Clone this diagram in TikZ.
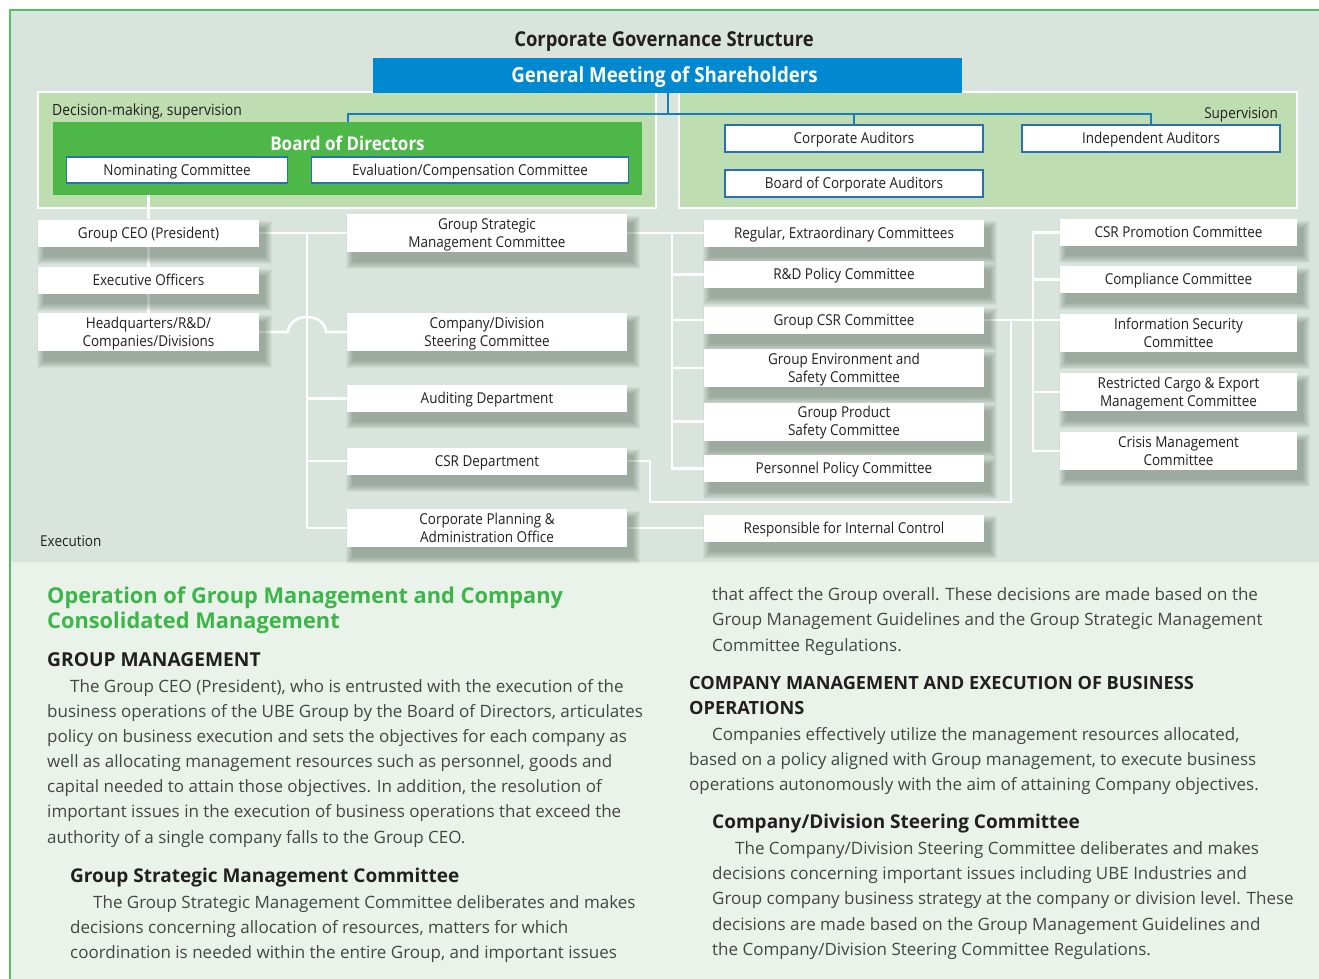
\documentclass[tikz,border=0pt]{standalone}
\usepackage{fontspec}
\setmainfont{Open Sans}
\newfontfamily\cnd[FakeStretch=0.9]{Open Sans}
\newfontfamily\txt{Open Sans}

\definecolor{topbg}{HTML}{D9E4DC}
\definecolor{lowbg}{HTML}{EAF3E9}
\definecolor{areafill}{HTML}{BEDDB0}
\definecolor{boardgreen}{HTML}{4DB848}
\definecolor{gmsblue}{HTML}{0089D0}
\definecolor{linkblue}{HTML}{1C7CC0}
\definecolor{edgeblue}{HTML}{2A6FB2}
\definecolor{ink}{HTML}{231F20}
\definecolor{bodyink}{HTML}{454545}
\definecolor{headgreen}{HTML}{3DB54A}
\definecolor{framegreen}{HTML}{55BE5F}
\definecolor{shadowc}{HTML}{2F4536}

\pgfdeclarelayer{backdrop}
\pgfdeclarelayer{links}
\pgfdeclarelayer{shade}
\pgfsetlayers{backdrop,links,shade,main}

% struts fixing the vertical placement of box labels
\newcommand{\st}{\rule[-4pt]{0pt}{18pt}}
\newcommand{\bst}{\rule[-5pt]{0pt}{25pt}}

\tikzset{
  lbl/.style={font=\cnd\fontsize{15}{18}\selectfont, text=ink, align=center},
  exbox/.style={lbl, fill=white, inner sep=0pt},
  inbox/.style={lbl, fill=white, draw=edgeblue, line width=1.1pt, inner sep=0pt},
  area/.style={fill=areafill, draw=white, line width=2pt, inner sep=0pt},
  wline/.style={draw=white, line width=2.6pt},
  bline/.style={draw=linkblue, line width=2pt},
  lw/.style={minimum width=221pt},
  mw/.style={minimum width=280pt},
  rw/.style={minimum width=237pt},
  h1/.style={minimum height=27pt},
  h2/.style={minimum height=38pt},
  body/.style={font=\txt\fontsize{17}{20}\selectfont, text=bodyink, anchor=base west, inner sep=0pt},
  gh/.style={font=\txt\bfseries\fontsize{21.8}{24}\selectfont, text=headgreen, anchor=base west, inner sep=0pt},
  bh/.style={font=\txt\bfseries\fontsize{19}{20}\selectfont, text=ink, anchor=base west, inner sep=0pt},
}

\begin{document}
\begin{tikzpicture}[x=1pt,y=-1pt]
\useasboundingbox (0,0) rectangle (1319,979);

\begin{pgfonlayer}{backdrop}
  \fill[white] (0,0) rectangle (1319,979);
  \fill[topbg] (10,10) rectangle (1319,562);
  \fill[lowbg] (10,562) rectangle (1319,979);
  \draw[framegreen, line width=1.5pt] (10,979) -- (10,10) -- (1319,10);
  % decision-making and supervision areas
  \node[area, minimum width=618pt, minimum height=116pt] (dec) at (347,150) {};
  \node[area, minimum width=618pt, minimum height=116pt] (sup) at (988,150) {};
\end{pgfonlayer}

% governance part
\node[font=\cnd\bfseries\fontsize{20.5}{24}\selectfont, text=ink, inner sep=0pt] (title) at (664,39) {\bst Corporate Governance Structure};
\node[fill=gmsblue, minimum width=589pt, minimum height=35pt, inner sep=0pt, text=white,
      font=\cnd\bfseries\fontsize{20.8}{24}\selectfont] (gms) at (667.5,75.5) {\bst General Meeting of Shareholders\hspace*{6pt}};

\node[lbl, font=\cnd\fontsize{15.5}{18}\selectfont, anchor=west, inner sep=0pt] (declbl) at (52,111) {\st Decision-making, supervision};
\node[lbl, anchor=east, inner sep=0pt] (suplbl) at (1278,113) {\st Supervision};

\node[fill=boardgreen, minimum width=589pt, minimum height=73pt, inner sep=0pt] (board) at (347.5,158.5) {};
\node[font=\cnd\bfseries\fontsize{18.9}{20}\selectfont, text=white, inner sep=0pt] (boardlbl) at (347.5,143) {\bst Board of Directors};
\node[inbox, minimum width=221pt, minimum height=26pt] (nom) at (177,170) {\st Nominating Committee};
\node[inbox, minimum width=317pt, minimum height=26pt] (eval) at (470,170) {\st Evaluation/Compensation Committee};

\node[inbox, minimum width=258pt, minimum height=27pt] (corpaud) at (854,138.5) {\st Corporate Auditors};
\node[inbox, minimum width=258pt, minimum height=27pt] (indaud) at (1151,138.5) {\st Independent Auditors};
\node[inbox, minimum width=258pt, minimum height=27pt] (bca) at (854,183.5) {\st Board of Corporate Auditors};

% execution part: left column
\node[exbox, lw, h1] (ceo) at (148.5,233) {\st Group CEO (President)};
\node[exbox, lw, h1] (exo) at (148.5,280.5) {\st Executive Officers};
\node[exbox, lw, h2] (hq) at (148.5,332) {\st Headquarters/R\&D/\\\st Companies/Divisions};

% middle column
\node[exbox, mw, h2] (gsmc) at (487,233) {\st Group Strategic\\\st Management Committee};
\node[exbox, mw, h2] (cds) at (487,332) {\st Company/Division\\\st Steering Committee};
\node[exbox, mw, h1] (aud) at (487,398.5) {\st Auditing Department};
\node[exbox, mw, h1] (csrd) at (487,461) {\st CSR Department};
\node[exbox, mw, h2] (cpo) at (487,528) {\st Corporate Planning \&\\\st Administration Office};

% committees
\node[exbox, mw, h1] (reg) at (844,233) {\st Regular, Extraordinary Committees};
\node[exbox, mw, h1] (rnd) at (844,274.5) {\st R\&D Policy Committee};
\node[exbox, mw, h1] (gcsr) at (844,320) {\st Group CSR Committee};
\node[exbox, mw, h2] (env) at (844,368) {\st Group Environment and\\\st Safety Committee};
\node[exbox, mw, h2] (prod) at (844,421.5) {\st Group Product\\\st Safety Committee};
\node[exbox, mw, h1] (pers) at (844,468.5) {\st Personnel Policy Committee};
\node[exbox, mw, h1] (ric) at (844,528) {\st Responsible for Internal Control};

% CSR committees
\node[exbox, rw, h1] (csrp) at (1178.5,232.5) {\st CSR Promotion Committee};
\node[exbox, rw, h1] (comp) at (1178.5,279.5) {\st Compliance Committee};
\node[exbox, rw, h2] (infos) at (1178.5,333) {\st Information Security\\\st Committee};
\node[exbox, rw, h2] (rce) at (1178.5,392) {\st Restricted Cargo \& Export\\\st Management Committee};
\node[exbox, rw, h2] (crisis) at (1178.5,451) {\st Crisis Management\\\st Committee};

\node[lbl, anchor=west, inner sep=0pt] (execlbl) at (40,541) {\st Execution};

% soft shadows under the execution boxes
\begin{pgfonlayer}{shade}
  \foreach \n in {ceo,exo,hq,gsmc,cds,aud,csrd,cpo,reg,rnd,gcsr,env,prod,pers,ric,csrp,comp,infos,rce,crisis}{
    \foreach \k in {0,...,7}{
      \fill[shadowc, opacity=0.05]
        ([shift={(\k-1,\k+2)}]\n.north west) rectangle ([shift={(13-\k,17-\k)}]\n.south east);
    }
  }
\end{pgfonlayer}

% connectors
\begin{pgfonlayer}{links}
  % shareholders' bus
  \coordinate (busL) at (347.5,114);
  \coordinate (busR) at (1151,114);
  \draw[bline] (gms.south) -- (gms.south |- busL);
  \draw[bline] (board.north) -- (busL) -- (busR) -- (indaud.north);
  \draw[bline] (corpaud.north) -- (corpaud.north |- busL);

  % executive chain
  \draw[wline] (board.south -| ceo.north) -- (ceo.north);
  \draw[wline] (ceo.south) -- (exo.north);
  \draw[wline] (exo.south) -- (hq.north);

  % first trunk
  \coordinate (t1a) at (307,233);
  \coordinate (t1b) at (307,528);
  \draw[wline] (ceo.east) -- (gsmc.west);
  \draw[wline] (t1a) -- (t1b);
  \draw[wline] (t1a |- aud.west) -- (aud.west);
  \draw[wline] (t1a |- csrd.west) -- (csrd.west);
  \draw[wline] (t1b) -- (cpo.west);
  \coordinate (hopL) at (288,332);
  \draw[wline] (hq.east) -- (hopL) arc[start angle=180, end angle=0, x radius=19pt, y radius=15pt] -- (cds.west);

  % committee trunk
  \coordinate (t2) at (672,233);
  \draw[wline] (gsmc.east) -- (reg.west);
  \draw[wline] (t2) -- (t2 |- pers.west) -- (pers.west);
  \draw[wline] (t2 |- rnd.west) -- (rnd.west);
  \draw[wline] (t2 |- gcsr.west) -- (gcsr.west);
  \draw[wline] (t2 |- env.west) -- (env.west);
  \draw[wline] (t2 |- prod.west) -- (prod.west);

  % CSR trunk
  \coordinate (t3) at (1033,232.5);
  \draw[wline] (csrp.west) -- (t3) -- (t3 |- crisis.west) -- (crisis.west);
  \draw[wline] (t3 |- comp.west) -- (comp.west);
  \draw[wline] (t3 |- rce.west) -- (rce.west);
  \draw[wline] (gcsr.east) -- (infos.west |- gcsr.east);

  % CSR department link
  \coordinate (c1) at (650,502);
  \coordinate (c2) at (1011,502);
  \draw[wline] (csrd.east) -| (c1) -- (c2) -- (c2 |- gcsr.east);

  % internal control
  \draw[wline] (cpo.east) -- (ric.west);
\end{pgfonlayer}

% text: left column
\node[gh] (hA) at (47,603) {Operation of Group Management and Company};
\node[gh] (hB) at (47,628) {Consolidated Management};
\node[bh, font=\txt\bfseries\fontsize{19.2}{20}\selectfont] (gm) at (47,666) {GROUP MANAGEMENT};
\node[body] (a1) at (70,692) {The Group CEO (President), who is entrusted with the execution of the};
\node[body] (a2) at (47,717) {business operations of the UBE Group by the Board of Directors, articulates};
\node[body] (a3) at (47,742) {policy on business execution and sets the objectives for each company as};
\node[body] (a4) at (47,767) {well as allocating management resources such as personnel, goods and};
\node[body] (a5) at (47,792) {capital needed to attain those objectives. In addition, the resolution of};
\node[body] (a6) at (47,817) {important issues in the execution of business operations that exceed the};
\node[body] (a7) at (47,843) {authority of a single company falls to the Group CEO.};
\node[bh] (gsh) at (70,882) {Group Strategic Management Committee};
\node[body] (b1) at (93,908) {The Group Strategic Management Committee deliberates and makes};
\node[body] (b2) at (70,933) {decisions concerning allocation of resources, matters for which};
\node[body] (b3) at (70,958) {coordination is needed within the entire Group, and important issues};

% text: right column
\node[body] (c1t) at (712,600) {that affect the Group overall. These decisions are made based on the};
\node[body] (c2t) at (712,625) {Group Management Guidelines and the Group Strategic Management};
\node[body] (c3t) at (712,651) {Committee Regulations.};
\node[bh, font=\txt\bfseries\fontsize{18.2}{20}\selectfont] (cm1) at (689,689) {COMPANY MANAGEMENT AND EXECUTION OF BUSINESS};
\node[bh, font=\txt\bfseries\fontsize{18.2}{20}\selectfont] (cm2) at (689,714) {OPERATIONS};
\node[body] (d1) at (712,740) {Companies effectively utilize the management resources allocated,};
\node[body] (d2) at (689,765) {based on a policy aligned with Group management, to execute business};
\node[body] (d3) at (689,790) {operations autonomously with the aim of attaining Company objectives.};
\node[bh] (cdh) at (712,828) {Company/Division Steering Committee};
\node[body] (e1) at (735,854) {The Company/Division Steering Committee deliberates and makes};
\node[body] (e2) at (712,879) {decisions concerning important issues including UBE Industries and};
\node[body] (e3) at (712,904) {Group company business strategy at the company or division level. These};
\node[body] (e4) at (712,930) {decisions are made based on the Group Management Guidelines and};
\node[body] (e5) at (712,955) {the Company/Division Steering Committee Regulations.};
\end{tikzpicture}
\end{document}
